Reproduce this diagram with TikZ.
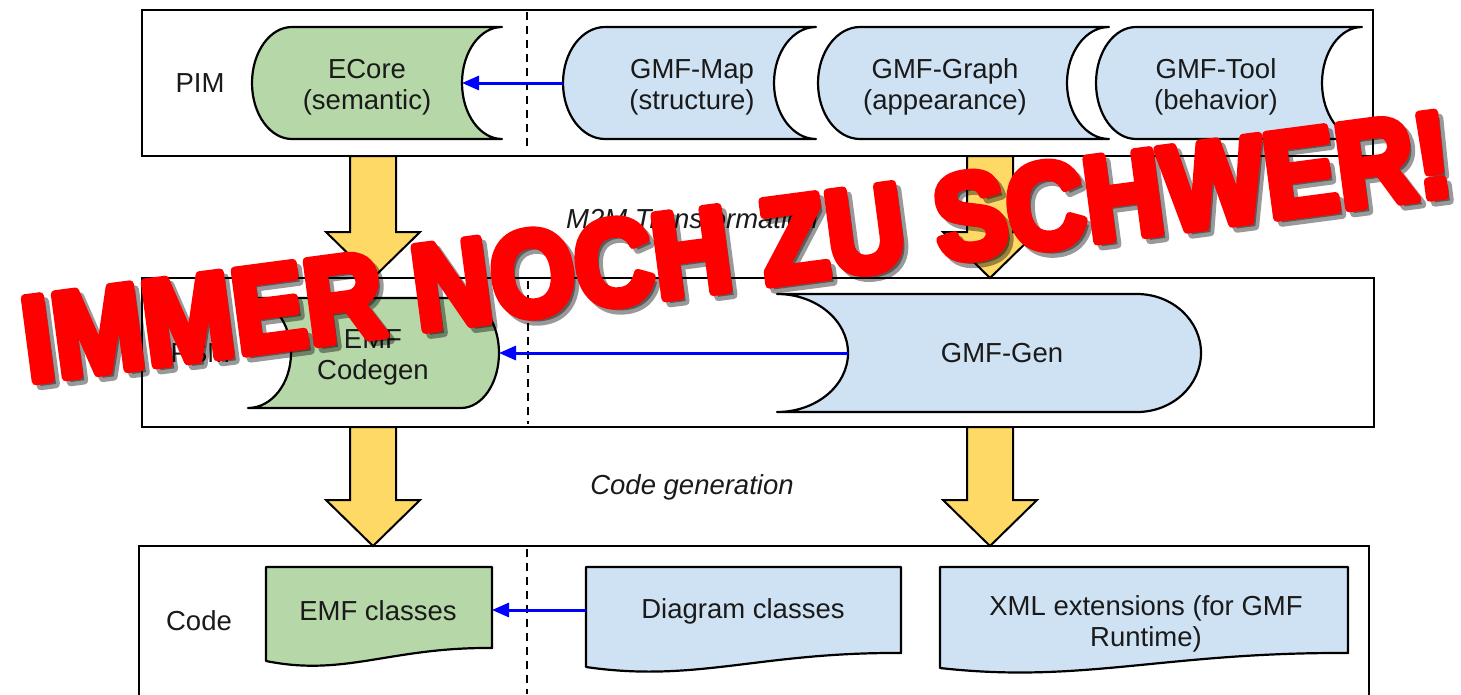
\documentclass[tikz,border=0pt]{standalone}
\usepackage{fontspec}
\setmainfont{Liberation Sans}
\newfontfamily\redfont{Liberation Sans}[BoldFeatures={FakeBold=7}]
\usetikzlibrary{arrows.meta,calc}
\definecolor{gfill}{HTML}{B6D7A8}
\definecolor{bfill}{HTML}{CFE2F3}
\definecolor{yfill}{HTML}{FFD966}
\definecolor{txtc}{HTML}{1A1A1A}
\tikzset{
  box/.style={draw=black, line width=2pt, rectangle, inner sep=0, outer sep=0},
  shapeline/.style={draw=black, line width=2.2pt, line join=round},
  lbl/.style={font=\fontsize{27.5}{31}\selectfont, align=center, text=txtc, inner sep=0},
  mlbl/.style={lbl, font=\fontsize{27.5}{31}\selectfont\itshape},
  sep/.style={draw=black, line width=2pt, dash pattern=on 8pt off 6pt},
  barrow/.style={draw=blue, line width=3pt, -{Triangle[length=17pt,width=14pt]}},
  yarrow/.style={draw=black, line width=2pt, fill=yfill, line join=miter},
  warnfont/.style={font=\redfont\bfseries\fontsize{121}{121}\selectfont, line join=round},
}
% stored-data shape: convex left end, concave right end
\newcommand\storedshape[6]{%
  \pgfmathsetmacro\shpA{#2+#6}%
  \pgfmathsetmacro\shpB{#2+#6-0.5523*#6}%
  \pgfmathsetmacro\shpM{(#4+#5)/2}%
  \pgfmathsetmacro\shpK{0.5523*(#5-#4)/2}%
  \pgfmathsetmacro\shpC{#3-0.5523*#6}%
  \pgfmathsetmacro\shpD{#3-#6}%
  \filldraw[shapeline, fill=#1] (\shpA,#4) -- (#3,#4)
    .. controls (\shpC,#4) and (\shpD,\shpM-\shpK) .. (\shpD,\shpM)
    .. controls (\shpD,\shpM+\shpK) and (\shpC,#5) .. (#3,#5)
    -- (\shpA,#5)
    .. controls (\shpB,#5) and (#2,\shpM+\shpK) .. (#2,\shpM)
    .. controls (#2,\shpM-\shpK) and (\shpB,#4) .. (\shpA,#4) -- cycle;}
% reversed: concave left end, convex right end
\newcommand\revshape[7]{%
  \pgfmathsetmacro\shpM{(#4+#5)/2}%
  \pgfmathsetmacro\shpK{0.5523*(#5-#4)/2}%
  \pgfmathsetmacro\shpE{#3-#7}%
  \pgfmathsetmacro\shpF{#3-#7+0.5523*#7}%
  \pgfmathsetmacro\shpG{#2+0.5523*#6}%
  \pgfmathsetmacro\shpH{#2+#6}%
  \filldraw[shapeline, fill=#1] (#2,#4) -- (\shpE,#4)
    .. controls (\shpF,#4) and (#3,\shpM-\shpK) .. (#3,\shpM)
    .. controls (#3,\shpM+\shpK) and (\shpF,#5) .. (\shpE,#5)
    -- (#2,#5)
    .. controls (\shpG,#5) and (\shpH,\shpM+\shpK) .. (\shpH,\shpM)
    .. controls (\shpH,\shpM-\shpK) and (\shpG,#4) .. (#2,#4) -- cycle;}
% document shape with wavy bottom
\newcommand\docshape[6]{%
  \pgfmathsetmacro\shpA{#2+0.35*(#3-#2)}%
  \pgfmathsetmacro\shpB{#2+0.55*(#3-#2)}%
  \filldraw[shapeline, fill=#1] (#2,#4) -- (#3,#4) -- (#3,#6)
    .. controls (\shpB,#6-1) and (\shpA,#5+16) .. (#2,#5) -- cycle;}
% big yellow block arrow between two boxes
\newcommand\blockarrow[3]{%
  \path (#1,0 |- #2.south) coordinate (bat) (#1,0 |- #3.north) coordinate (bab);
  \draw[yarrow] ($(bat)+(-23,0)$) -- ($(bab)+(-23,-46)$) -- ($(bab)+(-47,-46)$)
    -- (bab) -- ($(bab)+(47,-46)$) -- ($(bab)+(23,-46)$) -- ($(bat)+(23,0)$) -- cycle;}
\begin{document}
\begin{tikzpicture}[x=1pt, y=-1pt]
\useasboundingbox (0,0) rectangle (1461,694);
\clip (0,0) rectangle (1461,694);
\fill[white] (0,0) rectangle (1461,694);
% ---------- PIM ----------
\node[box, minimum width=1231pt, minimum height=146pt, anchor=north west] (pim) at (142,10) {};
\draw[sep] (527,12) -- (527,148);
\node[lbl] (pimlbl) at (200,83) {PIM};
\storedshape{gfill}{252}{502}{27}{139}{40}
\node[lbl] (ecore) at (367,87) {ECore\\(semantic)};
\coordinate (ecorein) at (462,83);
\storedshape{bfill}{563}{816}{27}{139}{42}
\node[lbl] (gmfmap) at (692,87) {GMF-Map\\(structure)};
\coordinate (gmfmapw) at (563,83);
\storedshape{bfill}{818}{1109}{27}{139}{42}
\node[lbl] (gmfgraph) at (945,87) {GMF-Graph\\(appearance)};
\storedshape{bfill}{1096}{1362}{27}{139}{40}
\node[lbl] (gmftool) at (1216,87) {GMF-Tool\\(behavior)};
\draw[barrow] (gmfmapw) -- (ecorein);
% ---------- PSM ----------
\node[box, minimum width=1232pt, minimum height=149pt, anchor=north west] (psm) at (142,278) {};
\draw[sep] (528,281) -- (528,424);
\node[lbl] (psmlbl) at (200.5,353) {PSM};
\revshape{gfill}{248}{499}{298}{408}{43}{38}
\node[lbl] (emfcg) at (373,357) {EMF\\Codegen};
\coordinate (emfcge) at (499,353);
\revshape{bfill}{777}{1201}{294}{412}{71}{64}
\node[lbl] (gmfgen) at (1002,353) {GMF-Gen};
\coordinate (gmfgenw) at (848,353);
\draw[barrow] (gmfgenw) -- (emfcge);
% ---------- Code ----------
\node[box, minimum width=1230pt, minimum height=200pt, anchor=north west] (code) at (139,546) {};
\draw[sep] (527,549) -- (527,694);
\node[lbl] (codelbl) at (199,621) {Code};
\docshape{gfill}{266}{492}{567}{661}{648}
\node[lbl] (emfcl) at (378,611) {EMF classes};
\coordinate (emfcle) at (492,610);
\docshape{bfill}{586}{901}{567}{667}{653}
\node[lbl] (diagcl) at (743,611) {Diagram classes};
\coordinate (diagclw) at (586,610);
\docshape{bfill}{940}{1348}{567}{668}{653}
\node[lbl] (xmlext) at (1146,624) {XML extensions (for GMF\\Runtime)};
\draw[barrow] (diagclw) -- (emfcle);
% ---------- transformation labels ----------
\node[mlbl] (m2m) at (692,219) {M2M Transformation};
\node[mlbl] (cgen) at (692,487) {Code generation};
% ---------- block arrows ----------
\blockarrow{373}{pim}{psm}
\blockarrow{990}{pim}{psm}
\blockarrow{373}{psm}{code}
\blockarrow{990}{psm}{code}
% ---------- overlay ----------
\node[warnfont, rotate=7.5, anchor=base, inner sep=0, text=black, opacity=0.4] (warnshadow) at (747,293) {\scalebox{0.9}[1]{IMMER NOCH ZU SCHWER!}};
\node[warnfont, rotate=7.5, anchor=base, inner sep=0, text=red] (warn) at (742,288) {\scalebox{0.9}[1]{IMMER NOCH ZU SCHWER!}};
\end{tikzpicture}
\end{document}
